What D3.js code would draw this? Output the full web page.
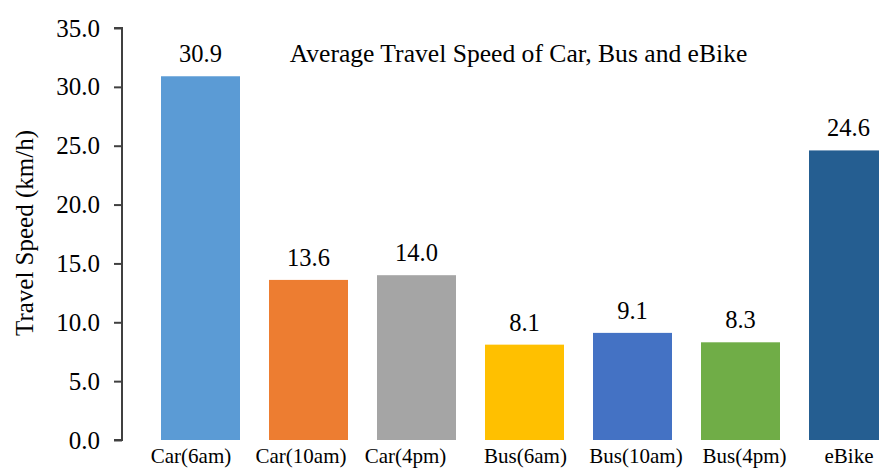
<!DOCTYPE html>
<html>
<head>
<meta charset="utf-8">
<script src="https://cdn.jsdelivr.net/npm/d3@7/dist/d3.min.js"></script>
<style>
  html, body { margin: 0; padding: 0; background: #fff; }
  svg text { font-family: "Liberation Serif", "Times New Roman", serif !important; fill: #000; }
</style>
</head>
<body>
<svg id="chart" width="879" height="468"></svg>
<script>
// Average travel speed per mode and time of day (km/h)
const categories = ["Car(6am)", "Car(10am)", "Car(4pm)", "Bus(6am)", "Bus(10am)", "Bus(4pm)", "eBike"];
const speeds = [30.9, 13.6, 14.0, 8.1, 9.1, 8.3, 24.6];
const barColors = ["#5B9BD5", "#ED7D31", "#A5A5A5", "#FFC000", "#4472C4", "#70AD47", "#255E91"];
const yTicks = [0, 5, 10, 15, 20, 25, 30, 35];
const chartTitle = "Average Travel Speed of Car, Bus and eBike";
const yTitle = "Travel Speed (km/h)";
// small horizontal nudges for the category labels under the bars
const labelNudge = [-9.5, -7.5, -11, 1, 3.5, 4, 0.5];

const svg = d3.select("#chart");
const axisX = 122;

const x = d3.scaleBand()
  .domain(categories)
  .range([146.5, 902.5])
  .paddingInner(29 / 108)
  .paddingOuter(29 / 216);

const y = d3.scaleLinear().domain([0, 35]).range([440, 28]);

// bars
svg.append("g").selectAll("rect")
  .data(categories)
  .join("rect")
  .attr("x", d => x(d))
  .attr("width", x.bandwidth())
  .attr("y", (d, i) => y(speeds[i]))
  .attr("height", (d, i) => y(0) - y(speeds[i]))
  .attr("fill", (d, i) => barColors[i]);

// value labels
svg.append("g").selectAll("text")
  .data(categories)
  .join("text")
  .attr("x", d => x(d) + x.bandwidth() / 2)
  .attr("y", (d, i) => y(speeds[i]) - 14)
  .attr("text-anchor", "middle")
  .style("font-size", "24.5px")
  .text((d, i) => speeds[i].toFixed(1));

// y axis
const yAxis = svg.append("g")
  .attr("transform", `translate(${axisX},0)`)
  .call(d3.axisLeft(y).tickValues(yTicks).tickFormat(d3.format(".1f")).tickSize(8).tickPadding(14));
yAxis.select(".domain").attr("stroke", "#404040").attr("stroke-width", 2).attr("d", `M-8,${y(35)}H0V${y(0)}H-8`);
yAxis.selectAll(".tick line").attr("stroke", "#404040").attr("stroke-width", 2);
yAxis.selectAll(".tick text").style("font-size", "25px");

// category labels
svg.append("g").selectAll("text")
  .data(categories)
  .join("text")
  .attr("x", (d, i) => x(d) + x.bandwidth() / 2 + labelNudge[i])
  .attr("y", 463)
  .attr("text-anchor", "middle")
  .style("font-size", "21px")
  .text(d => d);

// title
svg.append("text")
  .attr("x", 518.5)
  .attr("y", 62)
  .attr("text-anchor", "middle")
  .style("font-size", "25.6px")
  .text(chartTitle);

// y axis title
svg.append("text")
  .attr("transform", `translate(33,233) rotate(-90)`)
  .attr("text-anchor", "middle")
  .style("font-size", "25px")
  .text(yTitle);
</script>
</body>
</html>
